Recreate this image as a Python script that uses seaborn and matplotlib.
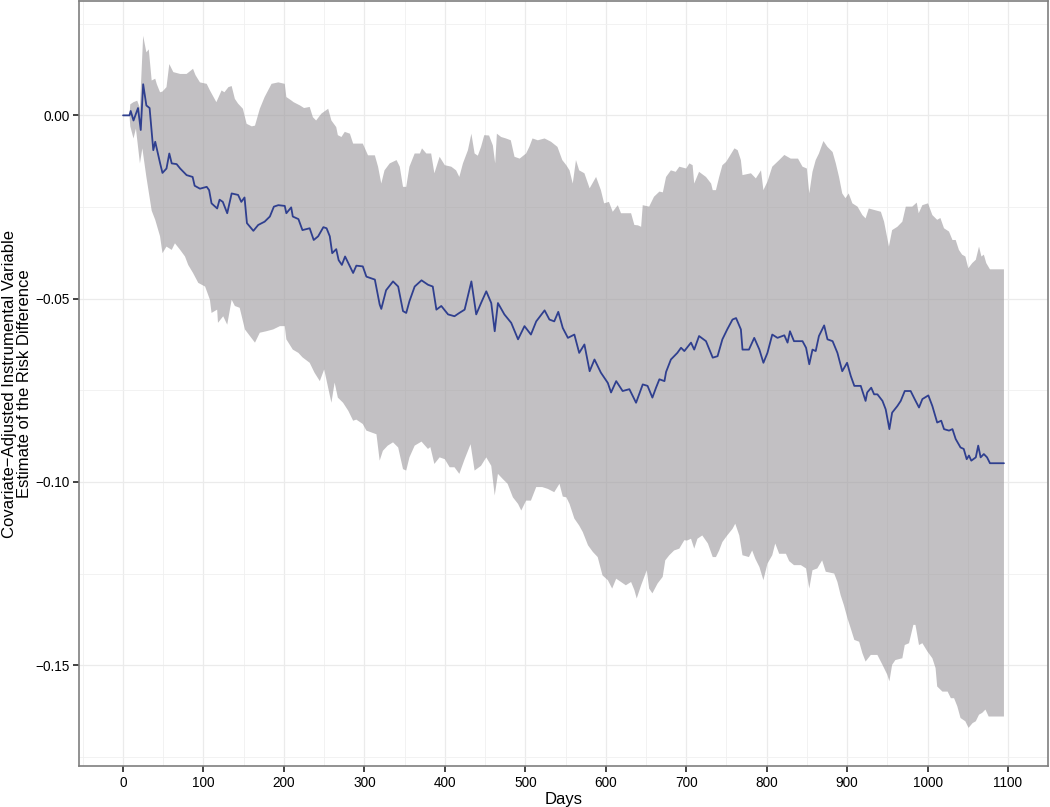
import numpy as np
import pandas as pd
import matplotlib
matplotlib.use("Agg")
import matplotlib.pyplot as plt
from matplotlib.ticker import MultipleLocator, FixedLocator, FuncFormatter
import seaborn as sns

# ---- data ----
est_days = [0, 8, 9.5, 13, 18.6, 22, 25, 29, 33, 37.6, 40, 46, 49, 54, 57.5, 60.5, 66.6, 71, 79, 86.5,
            89, 95.6, 104, 107, 110, 117, 120, 124, 129.5, 135, 143, 147, 151, 154, 162, 168, 176, 182.5,
            187.5, 193, 201, 203, 209, 211, 218, 223, 232, 237, 242.5, 249, 253, 257, 260, 265, 268, 272,
            276, 286, 290, 298, 302.5, 313, 319, 321, 327, 335.6, 342, 348, 352, 356, 362.5, 371, 379, 385,
            389.5, 395.6, 404, 412, 418, 424.6, 433, 439, 445, 451.5, 457.7, 462, 466, 474, 482.5, 491, 499,
            507, 513.6, 524, 530, 536, 541, 546.6, 553, 561, 567, 573.5, 580, 586, 594, 602.6, 606.6, 613,
            621, 629.4, 637.7, 646, 652, 658, 662.5, 666.7, 673, 675, 681, 689, 693.6, 697.7, 706, 710, 716,
            724.6, 733, 739, 745, 751, 757.6, 762, 768, 770, 778, 784.6, 791, 796, 801, 807, 813.5, 822, 826,
            829, 834, 844.6, 849, 853, 857, 861, 865, 871.5, 875.6, 882, 888, 894, 900, 904.6, 909, 917, 921,
            923, 925, 930, 933.6, 937.7, 944, 948, 952.6, 956, 962.5, 966.7, 971.7, 979, 984, 989.4, 993.6,
            1001, 1006, 1012, 1017, 1020.5, 1026.7, 1031, 1035, 1041, 1045, 1048.7, 1051.5, 1054.4, 1060,
            1063, 1066, 1070, 1074, 1077.6, 1095]
est_vals = [0.0, 0.0, 0.0012, -0.0014, 0.002, -0.004, 0.0085, 0.0027, 0.002, -0.0095, -0.0072, -0.013,
            -0.0157, -0.0145, -0.0104, -0.0131, -0.0133, -0.0145, -0.0163, -0.0168, -0.0192, -0.020, -0.0195,
            -0.0204, -0.024, -0.0254, -0.023, -0.0236, -0.0267, -0.0213, -0.0217, -0.0236, -0.0224, -0.0294,
            -0.0315, -0.0299, -0.029, -0.0276, -0.0249, -0.0245, -0.0247, -0.0267, -0.0251, -0.0276, -0.0283,
            -0.0313, -0.0308, -0.034, -0.033, -0.0305, -0.0308, -0.033, -0.0376, -0.0365, -0.0395, -0.0408,
            -0.0385, -0.043, -0.041, -0.0412, -0.044, -0.0448, -0.0516, -0.0528, -0.0477, -0.0453, -0.0467,
            -0.0534, -0.0539, -0.0507, -0.0467, -0.045, -0.0462, -0.0467, -0.053, -0.052, -0.0543, -0.0548,
            -0.0539, -0.053, -0.0453, -0.0543, -0.0512, -0.048, -0.0512, -0.0589, -0.0512, -0.0543, -0.0566,
            -0.0611, -0.0575, -0.0598, -0.0562, -0.0532, -0.0557, -0.0562, -0.0536, -0.058, -0.0607, -0.0598,
            -0.0648, -0.0625, -0.0698, -0.0666, -0.0702, -0.073, -0.0756, -0.0725, -0.0752, -0.0747, -0.0784,
            -0.0734, -0.0738, -0.077, -0.0743, -0.072, -0.0725, -0.0700, -0.0666, -0.0648, -0.0634, -0.0643,
            -0.062, -0.0639, -0.0602, -0.0616, -0.0661, -0.0657, -0.0611, -0.0584, -0.0557, -0.0553, -0.0584,
            -0.0639, -0.0639, -0.0607, -0.0639, -0.0675, -0.0648, -0.0598, -0.0607, -0.0600, -0.062, -0.0589,
            -0.0616, -0.0616, -0.0634, -0.0679, -0.0639, -0.0643, -0.0602, -0.0573, -0.0611, -0.0616, -0.0648,
            -0.0698, -0.0675, -0.0711, -0.0738, -0.0738, -0.0766, -0.0779, -0.0756, -0.0743, -0.0761, -0.0761,
            -0.0779, -0.0802, -0.0856, -0.0811, -0.0793, -0.0779, -0.0752, -0.0752, -0.0774, -0.0797, -0.0774,
            -0.0764, -0.0793, -0.0838, -0.0833, -0.0856, -0.086, -0.0856, -0.0883, -0.0906, -0.091, -0.0938,
            -0.0928, -0.0942, -0.0933, -0.0901, -0.0933, -0.0924, -0.0933, -0.0949, -0.0949]

upper_days = [0, 8, 9, 13, 17.6, 21, 25, 29, 32, 35.6, 40, 42, 46, 49, 54, 57.5, 62.5, 71, 79, 87, 90,
              95.6, 104, 108, 116, 122.5, 126, 131, 135, 139, 143, 149, 153.6, 160, 164, 170, 176, 184.6,
              193, 201, 203, 209, 212, 220, 225, 232, 236, 240, 246.7, 255, 259, 265, 267, 271.5, 275.6,
              282, 286, 298, 304.5, 313, 317, 321, 325, 331.5, 340, 344, 348, 352, 356, 362.5, 369, 371.6,
              377, 383, 387, 393.5, 400, 408, 414, 418, 422.5, 428.7, 433, 437, 441, 445, 449, 455, 459.7,
              462.6, 464.7, 470, 476, 482, 486.6, 493, 501, 505, 509, 515.6, 524, 532, 540, 546, 551, 555,
              559, 563, 567, 573.5, 580, 588, 594, 598, 604, 608.7, 615, 619, 631.5, 635.6, 640, 644, 646,
              654, 660, 666.7, 671, 675, 681, 687, 691.5, 700, 704, 708, 710, 716, 724.6, 731, 733, 737, 741,
              745, 749.6, 753.6, 760, 764, 768, 770, 780.5, 786.6, 793, 796, 801, 807, 815.6, 822, 830, 839,
              844.6, 850, 853, 857, 861, 865, 870.6, 875.6, 882, 886, 890, 894, 898, 902, 906.6, 913, 919,
              923, 927, 933.6, 942, 946, 950, 952, 956, 962.5, 968.7, 973, 981, 986.6, 989, 993.6, 1000.6,
              1006, 1012, 1016, 1020.5, 1026.7, 1031, 1035, 1039, 1043, 1047, 1050.7, 1055.6, 1060, 1064,
              1067, 1070, 1073, 1077.6, 1095]
upper_vals = [0.0, 0.0, 0.003, 0.0036, 0.004, 0.002, 0.0217, 0.0172, 0.018, 0.0095, 0.010, 0.0085, 0.0063,
              0.0065, 0.0077, 0.014, 0.0118, 0.0113, 0.0113, 0.0127, 0.011, 0.009, 0.0086, 0.0068, 0.0036,
              0.0068, 0.0063, 0.0077, 0.008, 0.0045, 0.0032, 0.0018, -0.0023, -0.003, -0.0028, 0.0018, 0.005,
              0.0086, 0.009, 0.0086, 0.005, 0.0041, 0.0036, 0.0027, 0.002, 0.0023, -0.0005, -0.0014, 0.0005,
              0.0018, -0.0014, -0.0032, -0.0054, -0.0059, -0.0045, -0.005, -0.0077, -0.0077, -0.0109, -0.0109,
              -0.014, -0.0186, -0.015, -0.0131, -0.0122, -0.014, -0.0195, -0.0195, -0.014, -0.0104, -0.0104,
              -0.009, -0.0104, -0.0104, -0.0158, -0.0113, -0.0136, -0.014, -0.015, -0.0168, -0.0131, -0.0095,
              -0.005, -0.0104, -0.011, -0.0086, -0.0054, -0.0055, -0.0082, -0.0131, -0.005, -0.0059, -0.0063,
              -0.0068, -0.0113, -0.0118, -0.0104, -0.0086, -0.0063, -0.0068, -0.0063, -0.0072, -0.0086,
              -0.0122, -0.0136, -0.015, -0.0186, -0.0122, -0.015, -0.0158, -0.0199, -0.0168, -0.0204, -0.024,
              -0.0236, -0.0263, -0.0245, -0.0267, -0.0267, -0.0299, -0.030, -0.0304, -0.0245, -0.0249, -0.0222,
              -0.0208, -0.021, -0.0168, -0.015, -0.0154, -0.014, -0.0145, -0.0131, -0.0136, -0.0186, -0.0154,
              -0.0168, -0.0186, -0.0204, -0.0204, -0.0168, -0.0136, -0.0127, -0.0113, -0.009, -0.0095, -0.0122,
              -0.0163, -0.0158, -0.0172, -0.015, -0.0204, -0.0181, -0.014, -0.0122, -0.0108, -0.0118, -0.0118,
              -0.014, -0.0145, -0.0213, -0.0154, -0.0122, -0.0104, -0.007, -0.0086, -0.010, -0.0131, -0.0168,
              -0.0213, -0.0226, -0.0213, -0.024, -0.0249, -0.0272, -0.0281, -0.0254, -0.0258, -0.0263, -0.029,
              -0.0335, -0.0358, -0.0313, -0.0304, -0.029, -0.0249, -0.0249, -0.0238, -0.0267, -0.0245, -0.024,
              -0.0272, -0.0285, -0.028, -0.0308, -0.0317, -0.034, -0.034, -0.0367, -0.038, -0.0385, -0.0417,
              -0.0403, -0.0394, -0.0358, -0.0385, -0.038, -0.0403, -0.042, -0.042]

lower_days = [0, 8, 9, 13, 16, 21, 24, 29, 35.6, 40, 46, 49, 54, 60.5, 64.5, 71, 77, 81, 87, 93.5, 102,
              108, 110, 117, 118, 124.5, 129.5, 135, 139, 145, 151.5, 157.7, 164, 170, 178, 186.6, 195, 201,
              203, 211, 218, 223, 232, 238, 244.6, 250, 259, 263, 267, 273.5, 280, 286, 290, 298, 302.5, 315,
              319, 323, 329, 335.6, 342, 348, 352, 356, 362.5, 371, 379, 382, 387, 393.5, 400, 406, 412, 418,
              424.6, 432, 437, 445, 451.5, 457.7, 462, 466, 472, 478, 484.6, 491, 495, 501, 507, 513.6, 521,
              528, 536, 542.5, 546.6, 551, 555, 561, 567, 571.5, 578, 584, 590, 596, 602.6, 608, 613, 619,
              625, 631.5, 635.6, 638.5, 644, 651, 654, 658, 664.5, 670.8, 674, 679, 685, 691.5, 697.7, 701,
              706, 710, 714, 720, 727, 733, 737, 741, 745, 751, 757.6, 761, 766, 770, 778, 782, 786, 791, 796,
              801, 807, 810.7, 815.6, 824, 828, 834, 842.6, 849, 853, 857, 863, 869, 873.5, 884, 888, 892,
              896, 900.5, 904.6, 909, 915, 919, 923, 929.5, 937.7, 944, 950, 952.6, 956, 960, 968.7, 971.7,
              977, 982.4, 985, 989.4, 993.6, 1000, 1006, 1010, 1012, 1018.5, 1025, 1029, 1033, 1037, 1041,
              1047, 1051, 1056, 1060, 1064, 1068, 1072, 1076, 1095]
lower_vals = [0.0, 0.0, -0.003, -0.0063, -0.0036, -0.0131, -0.009, -0.0168, -0.026, -0.0285, -0.033,
              -0.0376, -0.0358, -0.0367, -0.0349, -0.0367, -0.0385, -0.0408, -0.043, -0.0457, -0.0467, -0.0503,
              -0.0539, -0.053, -0.0566, -0.0548, -0.0571, -0.0503, -0.052, -0.0525, -0.0584, -0.0602, -0.062,
              -0.0593, -0.0589, -0.0584, -0.0575, -0.0575, -0.0611, -0.0639, -0.0648, -0.066, -0.0675, -0.0702,
              -0.0725, -0.0693, -0.0784, -0.0729, -0.077, -0.0784, -0.0806, -0.0833, -0.083, -0.0842, -0.086,
              -0.087, -0.0942, -0.0915, -0.0901, -0.0892, -0.0906, -0.0965, -0.0969, -0.0933, -0.0901, -0.089,
              -0.091, -0.0905, -0.0951, -0.0933, -0.0938, -0.096, -0.096, -0.0978, -0.0938, -0.0897, -0.0969,
              -0.0956, -0.0933, -0.0956, -0.1037, -0.0978, -0.0992, -0.1005, -0.1042, -0.106, -0.1078, -0.1051,
              -0.1051, -0.1014, -0.1014, -0.1019, -0.1028, -0.1005, -0.104, -0.1042, -0.106, -0.110, -0.1119,
              -0.1137, -0.1173, -0.1191, -0.1205, -0.1255, -0.1268, -0.1291, -0.1264, -0.1273, -0.1282,
              -0.1273, -0.1295, -0.1318, -0.1282, -0.1241, -0.1291, -0.1304, -0.1277, -0.1259, -0.1214, -0.120,
              -0.1187, -0.1182, -0.1159, -0.116, -0.1155, -0.1182, -0.1155, -0.1146, -0.1168, -0.1205, -0.1205,
              -0.1187, -0.1164, -0.1146, -0.1128, -0.1114, -0.1146, -0.120, -0.1205, -0.1187, -0.121, -0.1232,
              -0.1268, -0.1223, -0.120, -0.1168, -0.1196, -0.1196, -0.1216, -0.1227, -0.1227, -0.1236, -0.1291,
              -0.1241, -0.1236, -0.1214, -0.1245, -0.125, -0.1273, -0.1309, -0.1336, -0.1372, -0.140, -0.1431,
              -0.1436, -0.1467, -0.149, -0.1472, -0.1472, -0.1499, -0.1526, -0.1544, -0.1499, -0.1486, -0.1481,
              -0.1445, -0.144, -0.139, -0.139, -0.1445, -0.144, -0.1463, -0.1481, -0.1508, -0.1558, -0.1572,
              -0.1572, -0.159, -0.159, -0.1612, -0.1644, -0.1653, -0.1671, -0.1658, -0.1653, -0.1635, -0.163,
              -0.1621, -0.164, -0.164]

x_ticks = [0, 100, 200, 300, 400, 500, 600, 700, 800, 900, 1000, 1100]
y_ticks = [0.00, -0.05, -0.10, -0.15]
x_label = "Days"
y_label = "Covariate\u2212Adjusted Instrumental Variable\nEstimate of the Risk Difference"

# ---- styling ----
sns.set_theme(style="white")
plt.rcParams['font.family'] = ['Liberation Sans', 'DejaVu Sans']

fig = plt.figure(figsize=(10.5, 8.07), dpi=100)
ax = fig.add_axes([79 / 1050, 1 - 766 / 807, (1048 - 79) / 1050, (766 - 1) / 807])

est = pd.DataFrame({"day": est_days, "estimate": est_vals})

# gridlines (behind everything)
ax.set_axisbelow(True)
ax.xaxis.set_major_locator(FixedLocator(x_ticks))
ax.yaxis.set_major_locator(FixedLocator(y_ticks))
ax.xaxis.set_minor_locator(MultipleLocator(50))
ax.yaxis.set_minor_locator(FixedLocator([0.025, -0.025, -0.075, -0.125, -0.175]))
ax.grid(which="major", color="#ebebeb", linewidth=0.9)
ax.grid(which="minor", color="#f0f0f0", linewidth=0.6)

# confidence ribbon
ribbon_x = np.concatenate([upper_days, lower_days[::-1]])
ribbon_y = np.concatenate([upper_vals, lower_vals[::-1]])
ax.fill(ribbon_x, ribbon_y, facecolor="#9a979b", alpha=0.6, edgecolor="none", zorder=2)

# estimate line
sns.lineplot(data=est, x="day", y="estimate", ax=ax, color="#2f3f8f", linewidth=1.3,
             estimator=None, sort=False, zorder=3)

ax.set_xlim(-54.75, 1149.75)
ax.set_ylim(-0.1775, 0.0312)
ax.yaxis.set_major_formatter(FuncFormatter(lambda v, p: f"{v:.2f}".replace("-", "\u2212")))

ax.set_xlabel(x_label, fontsize=12, color="black", labelpad=1.5)
ax.set_ylabel(y_label, fontsize=12, color="black", labelpad=2, linespacing=1.0)

ax.tick_params(axis="both", which="major", direction="out", length=4.5, width=1.2,
               color="#222222", labelsize=9.8, labelcolor="black", pad=2.5)
ax.tick_params(axis="both", which="minor", length=0)
ax.tick_params(bottom=True, left=True)

for s in ax.spines.values():
    s.set_color("#7f7f7f")
    s.set_linewidth(1.2)

fig.savefig("out.png", dpi=100)
